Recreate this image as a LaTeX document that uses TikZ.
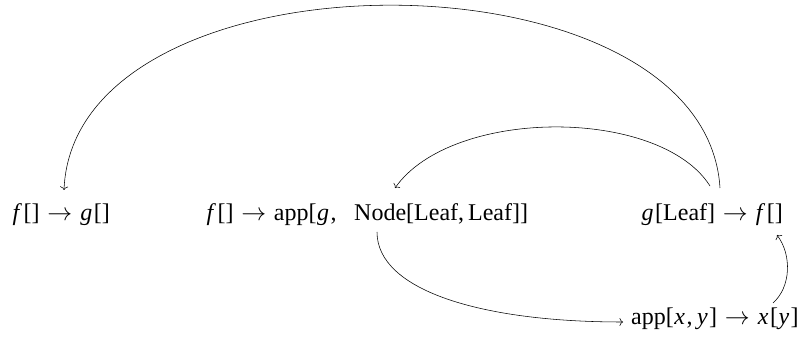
\documentclass[tikz,border=0pt]{standalone}
\usepackage{fontspec}
\usetikzlibrary{arrows.meta}
\setmainfont{Liberation Serif}
\newcommand{\vv}[1]{\kern0.5pt\textit{#1}\kern1.5pt}
\newcommand{\ra}{\hspace{0.32em}$\rightarrow$\hspace{0.32em}}
\begin{document}
\begin{tikzpicture}[x=1pt,y=1pt,
  term/.style={inner sep=0pt,anchor=base west,font=\fontsize{24}{28}\selectfont},
  conn/.style={-{To[length=3.5pt,width=8pt]},line width=0.55pt}]
\useasboundingbox (0,0) rectangle (805,347);
\node[term] (A) at (12,126) {\vv{f}[]\ra\vv{g}[]};
\node[term] (B) at (206,126) {\vv{f}[]\ra app[\vv{g},};
\node[term] (C) at (354,126) {Node[Leaf,\,Leaf]]};
\node[term] (D) at (641,126) {\vv{g}[Leaf]\ra\vv{f}[]};
\node[term] (E) at (631,22) {app[\vv{x},\,\vv{y}]\ra\vv{x}[\vv{y}]};
% big arc D -> A
\draw[conn] ([shift={(79,33)}]D.base west) .. controls +(-15,244) and +(10,246) .. ([shift={(52,31)}]A.base west);
% small arc D -> C
\draw[conn] ([shift={(69,35)}]D.base west) .. controls +(-50,79) and +(57,81) .. ([shift={(41,33)}]C.base west);
% C -> E
\draw[conn] ([shift={(23,-11)}]C.base west) .. controls +(0,-58) and +(-143,0) .. ([shift={(-8,3)}]E.base west);
% E -> D
\draw[conn] ([shift={(142,22)}]E.base west) .. controls +(18,16) and +(15,-20) .. ([shift={(136,-14)}]D.base west);
\end{tikzpicture}
\end{document}
